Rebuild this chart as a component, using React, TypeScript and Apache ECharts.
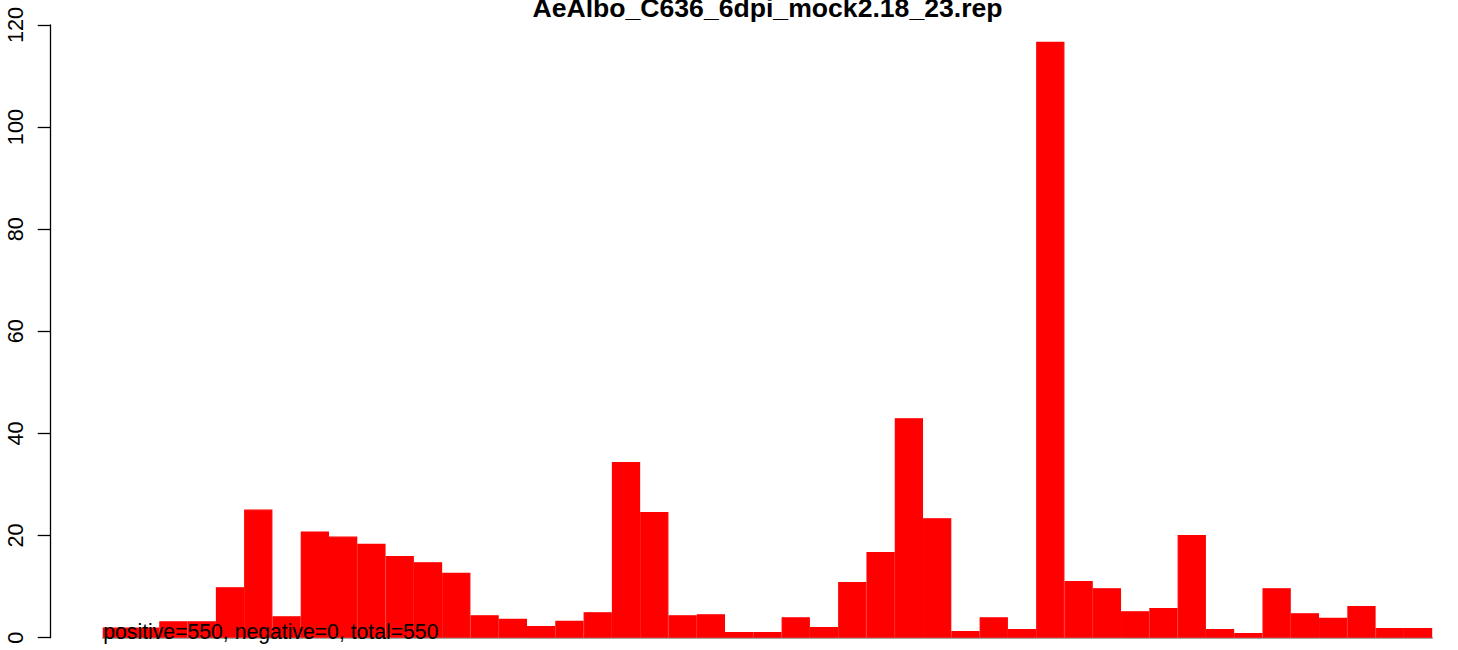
import React, { useEffect, useRef } from "react";
import * as echarts from "echarts";

const titleText = "AeAlbo_C636_6dpi_mock2.18_23.rep";
const summaryText = "positive=550, negative=0, total=550";

const binValues: number[] = [
  2.0, 2.0, 3.2, 3.2, 9.9, 25.1, 4.2, 20.8, 19.8, 18.4,
  16.0, 14.8, 12.7, 4.4, 3.7, 2.3, 3.3, 5.0, 34.4, 24.6,
  4.4, 4.6, 1.1, 1.1, 4.0, 2.1, 10.9, 16.8, 43.0, 23.4,
  1.3, 4.0, 1.7, 116.7, 11.1, 9.7, 5.2, 5.8, 20.1, 1.7,
  0.9, 9.7, 4.8, 3.9, 6.2, 1.9, 1.9,
];
const categories: string[] = binValues.map((_, i) => String(i + 1));
const yTicks = { min: 0, max: 120, interval: 20 };

const FONT = "'Liberation Sans', Arial, Helvetica, sans-serif";

export default function App() {
  const ref = useRef<HTMLDivElement>(null);
  useEffect(() => {
    if (!ref.current) return;
    const chart = echarts.init(ref.current, null, { renderer: "svg" });
    chart.setOption({
      animation: false,
      backgroundColor: "#ffffff",
      grid: { left: 102.7, right: 25.8, top: 25, bottom: 12.3, containLabel: false },
      xAxis: {
        type: "category",
        data: categories,
        axisLine: { show: true, lineStyle: { color: "#888888", width: 1.5 } },
        axisTick: { show: false },
        axisLabel: { show: false },
        splitLine: { show: false },
      },
      yAxis: {
        type: "value",
        min: yTicks.min,
        max: yTicks.max,
        interval: yTicks.interval,
        offset: 52,
        axisLine: { show: true, lineStyle: { color: "#000000", width: 1.3 } },
        axisTick: { show: true, length: 13, lineStyle: { color: "#000000", width: 1.3 } },
        axisLabel: {
          rotate: 90,
          margin: 24,
          fontSize: 21.6,
          color: "#000000",
          fontFamily: FONT,
        },
        splitLine: { show: false },
      },
      series: [
        {
          type: "bar",
          data: binValues,
          barWidth: "100%",
          barCategoryGap: "0%",
          itemStyle: { color: "#ff0000", borderColor: "#ff0000", borderWidth: 1.2 },
          silent: true,
        },
      ],
      graphic: [
        {
          type: "text",
          x: 767.5,
          y: 7.8,
          z: 100,
          style: {
            text: titleText,
            font: `bold 26.6px ${FONT}`,
            fill: "#000000",
            align: "center",
            verticalAlign: "middle",
          },
        },
        {
          type: "text",
          x: 103.3,
          y: 631,
          z: 100,
          style: {
            text: summaryText,
            font: `21.2px ${FONT}`,
            fill: "#000000",
            align: "left",
            verticalAlign: "middle",
          },
        },
      ],
    });
    return () => chart.dispose();
  }, []);
  return (
    <div
      ref={ref}
      style={{ position: "absolute", left: 0, top: 0, width: 1458, height: 650 }}
    />
  );
}
